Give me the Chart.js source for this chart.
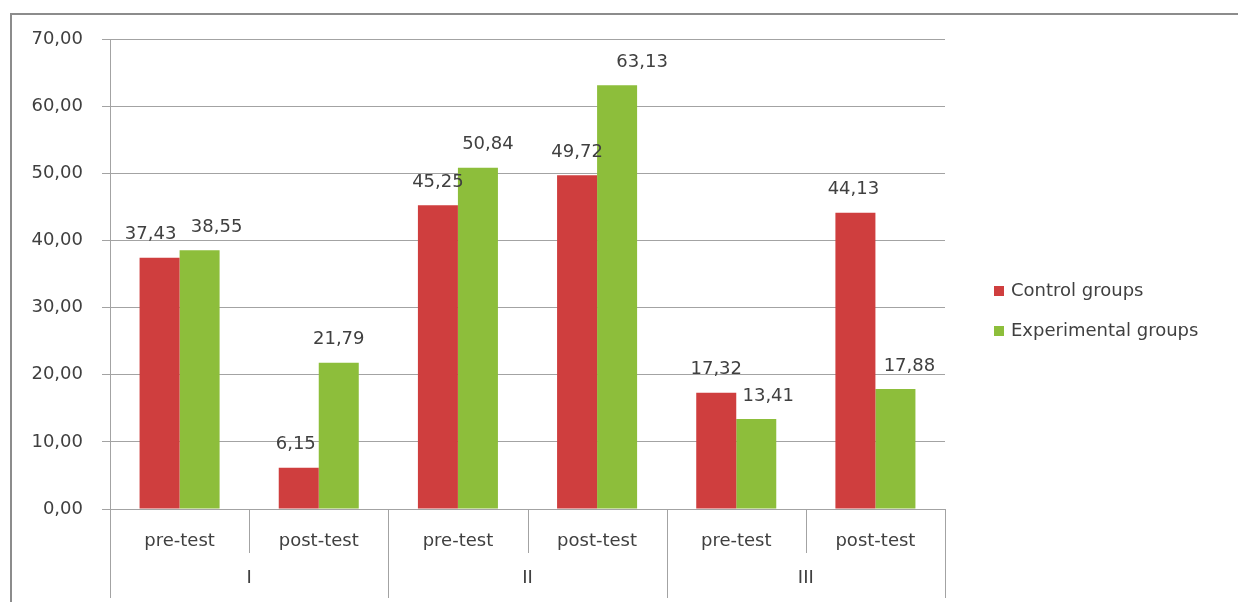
<!DOCTYPE html>
<html>
<head>
<meta charset="utf-8">
<script src="https://cdn.jsdelivr.net/npm/chart.js@4/dist/chart.umd.min.js"></script>
<style>
  html, body { margin: 0; padding: 0; background: #ffffff; }
  #wrap { width: 1238px; height: 602px; position: relative; }
  canvas { display: block; }
</style>
</head>
<body>
<div id="wrap"><canvas id="c" width="1238" height="602"></canvas></div>
<script>
// Test phases and the groups they belong to
const phases = ['pre-test', 'post-test', 'pre-test', 'post-test', 'pre-test', 'post-test'];
const groups = ['I', 'II', 'III'];

// Mean scores per phase
const controlScores = [37.43, 6.15, 45.25, 49.72, 17.32, 44.13];
const experimentalScores = [38.55, 21.79, 50.84, 63.13, 13.41, 17.88];

// Value axis ticks
const yTicks = [0, 10, 20, 30, 40, 50, 60, 70];

const TEXT = '#404040';
const LINE = '#a3a3a3';
const FONT = 'DejaVu Sans';

// Small sideways nudges so neighbouring value labels do not collide
const labelNudge = [
  [-9, -3, 0, 0, 0, -2],
  [17, 0, 10, 25, 12, 14]
];

const fmt = v => v.toFixed(2).replace('.', ',');

const decorations = {
  id: 'decorations',
  afterDraw(chart) {
    const ctx = chart.ctx;
    const area = chart.chartArea;
    const x = chart.scales.x;
    const n = phases.length;
    const step = (x.getPixelForValue(1) - x.getPixelForValue(0));
    ctx.save();

    // value labels above bars
    ctx.font = '18px "' + FONT + '"';
    ctx.fillStyle = TEXT;
    ctx.textAlign = 'center';
    ctx.textBaseline = 'middle';
    chart.data.datasets.forEach((ds, di) => {
      const meta = chart.getDatasetMeta(di);
      meta.data.forEach((bar, i) => {
        ctx.fillText(fmt(ds.data[i]), bar.x + labelNudge[di][i], bar.y - 23);
      });
    });

    // category separators in the axis band
    ctx.strokeStyle = LINE;
    ctx.lineWidth = 1;
    for (let i = 0; i <= n; i++) {
      const px = Math.round(x.getPixelForValue(0) - step / 2 + i * step) + 0.5;
      const bottom = (i % 2 === 0) ? 598 : 553;
      ctx.beginPath();
      ctx.moveTo(px, area.bottom);
      ctx.lineTo(px, bottom);
      ctx.stroke();
    }

    // group labels
    ctx.fillStyle = TEXT;
    groups.forEach((g, k) => {
      const cx = (x.getPixelForValue(2 * k) + x.getPixelForValue(2 * k + 1)) / 2;
      ctx.fillText(g, cx, 578);
    });

    // legend
    ctx.textAlign = 'left';
    chart.data.datasets.forEach((ds, di) => {
      const ly = 291 + di * 40;
      ctx.fillStyle = ds.backgroundColor;
      ctx.fillRect(994, ly - 5, 10, 10);
      ctx.fillStyle = TEXT;
      ctx.fillText(ds.label, 1011, ly);
    });

    // frame edges (top and left)
    ctx.strokeStyle = '#8c8c8c';
    ctx.lineWidth = 2;
    ctx.beginPath();
    ctx.moveTo(11, 602);
    ctx.lineTo(11, 14);
    ctx.lineTo(1238, 14);
    ctx.stroke();
    ctx.restore();
  }
};

Chart.defaults.font.family = FONT;
Chart.defaults.color = TEXT;

new Chart(document.getElementById('c'), {
  type: 'bar',
  data: {
    labels: phases,
    datasets: [
      { label: 'Control groups', data: controlScores, backgroundColor: '#cf3e3e' },
      { label: 'Experimental groups', data: experimentalScores, backgroundColor: '#8dbe3b' }
    ]
  },
  options: {
    responsive: false,
    animation: false,
    layout: { padding: { left: 10, top: 39, right: 293, bottom: 33 } },
    datasets: { bar: { categoryPercentage: 0.575, barPercentage: 1.0 } },
    plugins: { legend: { display: false }, tooltip: { enabled: false } },
    scales: {
      x: {
        grid: { display: false, drawTicks: false },
        border: { display: false },
        ticks: { font: { size: 18 }, color: TEXT, padding: 22, maxRotation: 0 },
        afterFit(s) { s.height = 60; }
      },
      y: {
        min: 0,
        max: 70,
        afterBuildTicks(s) { s.ticks = yTicks.map(v => ({ value: v })); },
        grid: { color: LINE, tickLength: 8, tickColor: LINE },
        border: { display: true, color: LINE },
        ticks: { font: { size: 18 }, color: TEXT, padding: 19, callback: v => fmt(v) },
        afterFit(s) { s.width = 100; }
      }
    }
  },
  plugins: [decorations]
});
</script>
</body>
</html>
